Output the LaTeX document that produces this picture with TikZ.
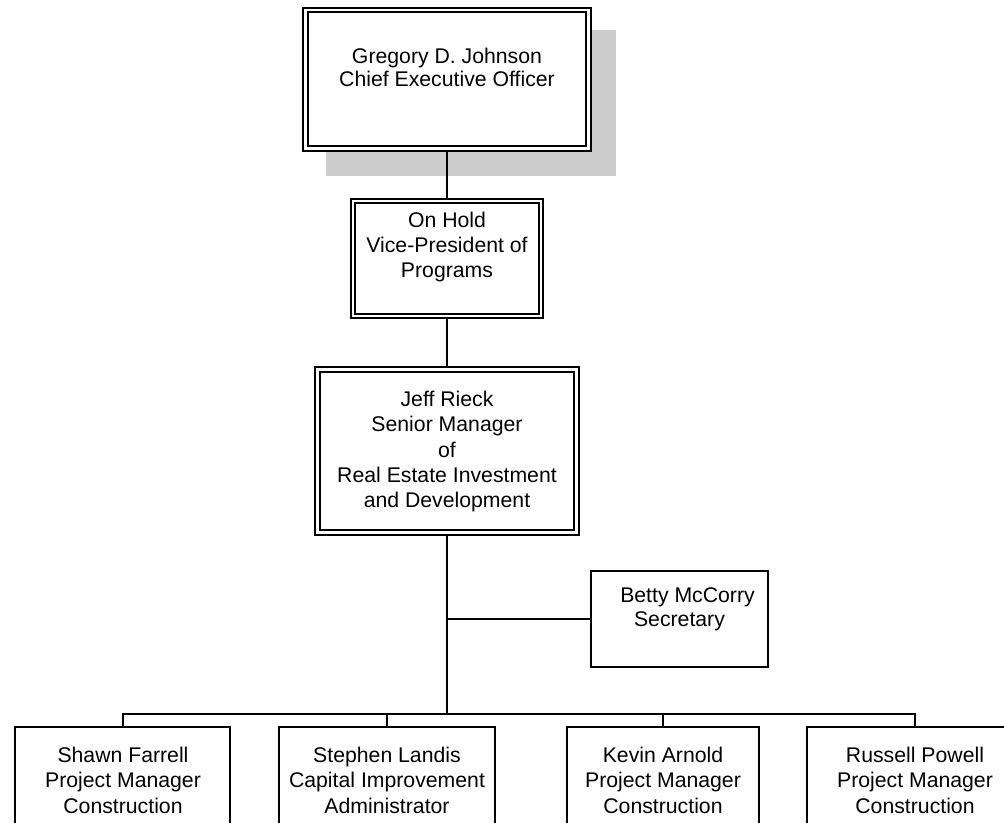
\documentclass[tikz,border=0pt]{standalone}
\usepackage{fontspec}
\setmainfont{Liberation Sans}
\usetikzlibrary{backgrounds}

\tikzset{
	dbox/.style={draw,double,line width=0.05cm,double distance=0.07cm,fill=white,inner sep=0pt},
	sbox/.style={draw,line width=0.05cm,fill=white,inner sep=0pt},
	ptext/.style={align=center,anchor=north,inner sep=0pt},
	link/.style={line width=0.05cm}
}

\begin{document}
\begin{tikzpicture}[x=0.025cm,y=-0.025cm,
	font=\fontsize{15.1pt}{18pt}\selectfont]
	\useasboundingbox (0,0) rectangle (1004,832);
	\clip (0,0) rectangle (1004,822);
	
	% boxes
	\node[dbox,minimum width=7.09cm,minimum height=3.46cm] (ceo) at (447,79.25) {};
	\node[dbox,minimum width=4.7cm,minimum height=2.875cm] (vp) at (447,258.5) {};
	\node[dbox,minimum width=6.475cm,minimum height=4.075cm] (jr) at (447,451) {};
	\node[sbox,minimum width=4.425cm,minimum height=2.4cm] (bm) at (679.5,619) {};
	\node[sbox,minimum width=5.375cm,minimum height=3.325cm] (sf) at (122.5,793.5) {};
	\node[sbox,minimum width=5.4cm,minimum height=3.325cm] (sl) at (387,793.5) {};
	\node[sbox,minimum width=4.8cm,minimum height=3.325cm] (ka) at (663,793.5) {};
	\node[sbox,minimum width=5.4cm,minimum height=3.325cm] (rp) at (915,793.5) {};
	
	% names
	\node[ptext] (ceo-t) at (447,47.5) {Gregory D. Johnson\\[-1.6pt]Chief Executive Officer};
	\node[ptext] (vp-t) at (447,211.5) {On Hold\\Vice-President of\\Programs};
	\node[ptext] (jr-t) at (447,391) {Jeff Rieck\\Senior Manager\\of\\Real Estate Investment\\and Development};
	\node[ptext] (bm-t) at (679.5,587) {\hspace*{0.4cm}Betty McCorry\\[-0.8pt]Secretary};
	\node[ptext] (sf-t) at (123,747) {Shawn Farrell\\Project Manager\\Construction};
	\node[ptext] (sl-t) at (387,747) {Stephen Landis\\Capital Improvement\\Administrator};
	\node[ptext] (ka-t) at (663,747) {Kevin Arnold\\Project Manager\\Construction};
	\node[ptext] (rp-t) at (915,747) {Russell Powell\\Project Manager\\Construction};
	
	\coordinate (bus) at (447,714);
	
	\begin{pgfonlayer}{background}
		\fill[gray!40] (326,30) rectangle (616,176);
		\draw[link] (ceo) -- (vp);
		\draw[link] (vp) -- (jr);
		\draw[link] (jr) -- (bus);
		\draw[link] (bm.west) -- (bm.west -| bus);
		\draw[link] (sf.north) |- (bus) -| (rp.north);
		\draw[link] (sl.north) -- (sl.north |- bus);
		\draw[link] (ka.north) -- (ka.north |- bus);
	\end{pgfonlayer}
\end{tikzpicture}
\end{document}
